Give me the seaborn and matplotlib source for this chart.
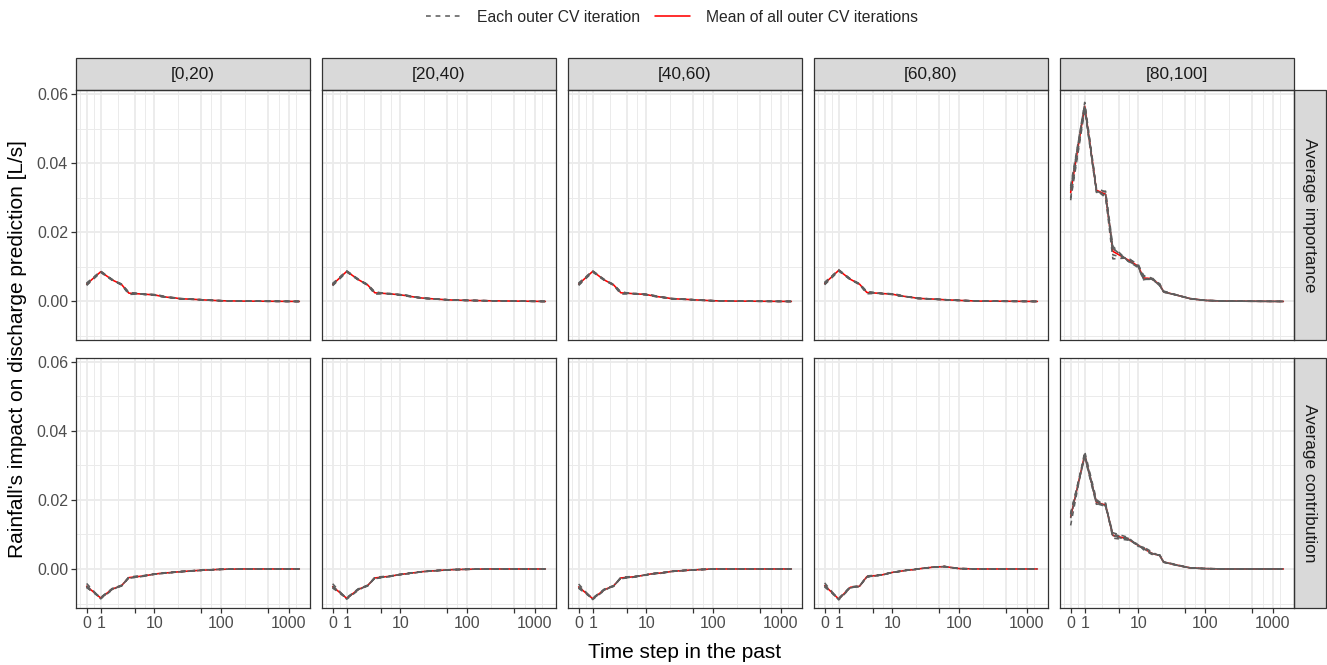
import numpy as np
import pandas as pd
import seaborn as sns
import matplotlib.pyplot as plt
from matplotlib.lines import Line2D
from matplotlib.patches import Rectangle

lags = [0, 1, 2, 3, 4, 7, 10, 12, 16, 21, 24, 40, 60, 100, 200, 1440]

bins = ["[0,20)", "[20,40)", "[40,60)", "[60,80)", "[80,100]"]
measures = ["Average importance", "Average contribution"]

# mean of all outer CV iterations, per panel
imp_0_20 = [0.0050, 0.0086, 0.0062, 0.0049, 0.0024, 0.0021, 0.0019, 0.0016, 0.0012, 0.0010, 0.0008, 0.0006, 0.0004, 0.0002, 0.0001, 0.0]
imp_20_40 = [0.0049, 0.0087, 0.0063, 0.0048, 0.0025, 0.0022, 0.0019, 0.0017, 0.0013, 0.0010, 0.0009, 0.0006, 0.0004, 0.0003, 0.0002, 0.0]
imp_40_60 = [0.0050, 0.0087, 0.0062, 0.0048, 0.0025, 0.0022, 0.0020, 0.0017, 0.0013, 0.0010, 0.0008, 0.0006, 0.0004, 0.0002, 0.0001, 0.0]
imp_60_80 = [0.0052, 0.0090, 0.0064, 0.0050, 0.0026, 0.0023, 0.0021, 0.0018, 0.0014, 0.0011, 0.0009, 0.0007, 0.0005, 0.0003, 0.0001, 0.0]
imp_80_100 = [0.0315, 0.0565, 0.0322, 0.0310, 0.0145, 0.0120, 0.0102, 0.0068, 0.0066, 0.0048, 0.0028, 0.0017, 0.0008, 0.0003, 0.0001, 0.0]

con_0_20 = [-0.0050, -0.0084, -0.0058, -0.0048, -0.0025, -0.0020, -0.0015, -0.0013, -0.0011, -0.0009, -0.0008, -0.0005, -0.0003, -0.0001, 0.0, 0.0]
con_20_40 = [-0.0051, -0.0085, -0.0059, -0.0048, -0.0026, -0.0021, -0.0016, -0.0014, -0.0011, -0.0008, -0.0007, -0.0004, -0.0002, -0.0001, 0.0, 0.0]
con_40_60 = [-0.0052, -0.0086, -0.0060, -0.0049, -0.0026, -0.0022, -0.0017, -0.0014, -0.0012, -0.0009, -0.0007, -0.0004, -0.0002, 0.0, 0.0, 0.0]
con_60_80 = [-0.0048, -0.0087, -0.0053, -0.0050, -0.0022, -0.0017, -0.0010, -0.0008, -0.0004, -0.0002, 0.0000, 0.0005, 0.0007, 0.0001, 0.0, 0.0]
con_80_100 = [0.0150, 0.0330, 0.0193, 0.0185, 0.0097, 0.0087, 0.0068, 0.0060, 0.0045, 0.0039, 0.0020, 0.0010, 0.0003, 0.0001, 0.0, 0.0]

# how each of the 5 outer CV iterations departs from the mean (ratio), per row
imp_iter_ratio = [
    [1.06, 1.01, 1.02, 1.02, 0.93, 1.03, 1.05, 1.08, 0.97, 1.05, 1.07, 1.02, 1.04, 1.05, 1.0, 1.0],
    [0.95, 0.99, 0.98, 1.03, 1.10, 0.97, 0.96, 0.92, 1.05, 0.97, 0.95, 1.04, 0.96, 0.98, 1.0, 1.0],
    [1.02, 1.02, 1.01, 0.98, 0.85, 1.05, 1.02, 1.11, 1.02, 0.94, 1.03, 0.95, 1.02, 1.00, 1.0, 1.0],
    [0.93, 0.98, 0.99, 1.00, 1.06, 0.98, 0.98, 0.95, 0.99, 1.06, 0.97, 1.01, 0.99, 0.97, 1.0, 1.0],
    [1.04, 1.00, 1.00, 0.97, 1.06, 0.97, 0.99, 0.94, 0.97, 0.98, 0.98, 0.98, 0.99, 1.00, 1.0, 1.0],
]
con_iter_ratio = [
    [0.84, 1.03, 1.04, 0.98, 1.08, 1.05, 0.96, 1.06, 1.10, 0.95, 1.05, 1.10, 0.95, 1.0, 1.0, 1.0],
    [1.06, 0.98, 0.97, 1.03, 0.92, 0.96, 1.05, 0.93, 0.94, 1.04, 0.96, 0.92, 1.05, 1.0, 1.0, 1.0],
    [1.05, 1.01, 1.00, 0.99, 1.04, 1.02, 0.98, 1.04, 0.97, 1.03, 1.02, 1.03, 0.98, 1.0, 1.0, 1.0],
    [1.07, 0.99, 1.01, 1.02, 0.97, 0.98, 1.02, 0.98, 1.01, 0.97, 0.99, 0.97, 1.03, 1.0, 1.0, 1.0],
    [0.98, 0.99, 0.98, 0.98, 0.99, 0.99, 0.99, 0.99, 0.98, 1.01, 0.98, 0.98, 0.99, 1.0, 1.0, 1.0],
]

x_breaks = [0, 1, 5, 10, 50, 100, 500, 1000]
x_labels = ["0", "1", "", "10", "", "100", "", "1000"]
y_breaks = [0.00, 0.02, 0.04, 0.06]
y_labels = ["0.00", "0.02", "0.04", "0.06"]

means = {
    ("Average importance", "[0,20)"): imp_0_20,
    ("Average importance", "[20,40)"): imp_20_40,
    ("Average importance", "[40,60)"): imp_40_60,
    ("Average importance", "[60,80)"): imp_60_80,
    ("Average importance", "[80,100]"): imp_80_100,
    ("Average contribution", "[0,20)"): con_0_20,
    ("Average contribution", "[20,40)"): con_20_40,
    ("Average contribution", "[40,60)"): con_40_60,
    ("Average contribution", "[60,80)"): con_60_80,
    ("Average contribution", "[80,100]"): con_80_100,
}
ratios = {"Average importance": imp_iter_ratio, "Average contribution": con_iter_ratio}

rows = []
for (m, b), vals in means.items():
    for lag, v in zip(lags, vals):
        rows.append((m, b, "mean", -1, lag, v))
    for it, r in enumerate(ratios[m]):
        for lag, v, f in zip(lags, vals, r):
            rows.append((m, b, "iteration", it, lag, v * f))
df = pd.DataFrame(rows, columns=["measure", "bin", "kind", "iteration", "lag", "value"])

sns.set_theme(style="white")
plt.rcParams["font.family"] = ["Liberation Sans", "DejaVu Sans"]

GREY = "#5E5E5E"
DASH = (0, (3.0, 3.0))
LW = 1.15


def draw_panel(data, **kws):
    ax = plt.gca()
    sns.lineplot(data=data[data["kind"] == "mean"], x="lag", y="value",
                 color="red", lw=LW, ax=ax, zorder=2)
    sns.lineplot(data=data[data["kind"] == "iteration"], x="lag", y="value",
                 units="iteration", estimator=None, color=GREY, lw=LW,
                 linestyle=DASH, ax=ax, zorder=3)


g = sns.FacetGrid(df, row="measure", col="bin", row_order=measures, col_order=bins,
                  sharex=True, sharey=True, height=2.5, aspect=1.0, despine=False)
g.map_dataframe(draw_panel)
g.set_titles("")
g.set_axis_labels("", "")

fig = g.figure
fig.set_size_inches(13.27, 6.65)
fig.subplots_adjust(left=76 / 1327, right=1294 / 1327, bottom=1 - 608 / 665,
                    top=1 - 90 / 665, wspace=12 / 234, hspace=17 / 250)

# pseudo-log positions of the minor grid (midpoints between breaks, ggplot style)
tb = 2 * np.arcsinh(np.array(x_breaks) / 2)
step = tb[1] - tb[0]
tb_ext = np.concatenate([[tb[0] - step], tb, [tb[-1] + step]])
x_minor = 2 * np.sinh((tb_ext[:-1] + tb_ext[1:]) / 4)
t_max = 2 * np.arcsinh(max(lags) / 2)
x_lim = (2 * np.sinh(-0.05 * t_max / 2), 2 * np.sinh(1.05 * t_max / 2))

for i, m in enumerate(measures):
    for j, b in enumerate(bins):
        ax = g.axes[i, j]
        ax.set_xscale("asinh", linear_width=2)
        ax.set_xlim(x_lim)
        ax.set_ylim(-0.0113, 0.0612)
        ax.set_xticks(x_breaks, x_labels)
        ax.set_xticks(x_minor, minor=True)
        ax.set_yticks(y_breaks, y_labels)
        ax.set_yticks([-0.01, 0.01, 0.03, 0.05], minor=True)
        ax.xaxis.set_minor_formatter(plt.NullFormatter())
        ax.yaxis.set_minor_formatter(plt.NullFormatter())
        ax.grid(which="major", color="#EBEBEB", lw=1.3)
        ax.grid(which="minor", color="#EBEBEB", lw=0.7)
        ax.set_axisbelow(True)
        ax.set_xlabel("")
        ax.set_ylabel("")
        for sp in ax.spines.values():
            sp.set_color("#333333")
            sp.set_linewidth(0.9)
        ax.tick_params(which="minor", length=0)
        ax.tick_params(which="major", length=3.5, width=0.9, color="#333333",
                       labelsize=11.5, labelcolor="#4D4D4D", pad=2.2,
                       bottom=(i == 1), left=(j == 0),
                       labelbottom=(i == 1), labelleft=(j == 0))
        if i == 0:
            ax.add_patch(Rectangle((0, 1), 1, 32 / 250, transform=ax.transAxes,
                                   facecolor="#D9D9D9", edgecolor="#333333",
                                   lw=0.9, clip_on=False))
            ax.text(0.5, 1 + 15 / 250, b, transform=ax.transAxes, ha="center",
                    va="center", fontsize=12.4, color="#1A1A1A")
        if j == len(bins) - 1:
            ax.add_patch(Rectangle((1, 0), 32 / 234, 1, transform=ax.transAxes,
                                   facecolor="#D9D9D9", edgecolor="#333333",
                                   lw=0.9, clip_on=False))
            ax.text(1 + 16 / 234, 0.5, m, transform=ax.transAxes, ha="center",
                    va="center", rotation=-90, fontsize=12.4, color="#1A1A1A")

fig.text(18 / 1327, 1 - 349 / 665, "Rainfall's impact on discharge prediction [L/s]",
         rotation=90, ha="center", va="center", fontsize=15, color="black")
fig.text(685 / 1327, 1 - 653 / 665, "Time step in the past",
         ha="center", va="center", fontsize=15, color="black")

handles = [Line2D([], [], color=GREY, lw=LW, linestyle=DASH),
           Line2D([], [], color="red", lw=LW)]
fig.legend(handles, ["Each outer CV iteration", "Mean of all outer CV iterations"],
           loc="center", bbox_to_anchor=(672 / 1327, 1 - 17 / 665), ncol=2,
           frameon=False, fontsize=11.3, handlelength=2.2, handletextpad=1.0,
           columnspacing=1.0)

fig.savefig("out.png", dpi=100)
